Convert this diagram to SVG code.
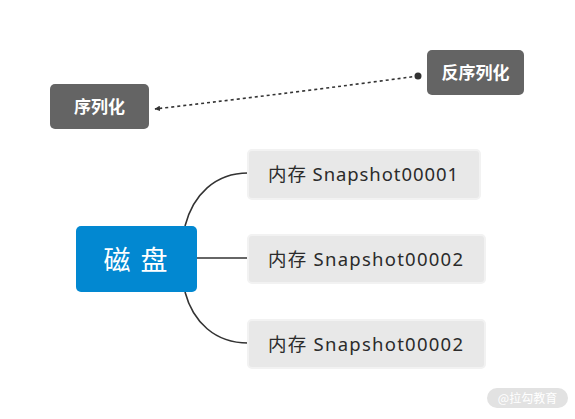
<svg xmlns="http://www.w3.org/2000/svg" width="575" height="419" viewBox="0 0 575 419">
<style>
.dark{fill:#646464}
.dtxt{fill:#ffffff;font-family:"Noto Sans","Noto Sans CJK SC",sans-serif;font-weight:bold;font-size:17px}
.snap{fill:#e8e8e8;stroke:#f2f2f2;stroke-width:2}
.stxt{fill:#2b2b2b;font-family:"Noto Sans","Noto Sans CJK SC",sans-serif;font-size:18.5px}
.conn{fill:none;stroke:#333333;stroke-width:1.6}
</style>
<defs>
<marker id="arr" viewBox="0 0 10 10" refX="9" refY="5" markerWidth="3.5" markerHeight="3.5" orient="auto-start-reverse">
<path d="M0,0 L10,5 L0,10 Z" fill="#333"/>
</marker>
</defs>
<rect width="575" height="419" fill="#ffffff"/>
<g id="connectors">
<path class="conn" d="M418,76 Q300,92 155,109" stroke-dasharray="3,3" stroke-width="2.2" marker-end="url(#arr)"/>
<circle cx="418" cy="76" r="3.5" fill="#333"/>
<path class="conn" d="M185,226 C193,195 215,173 248,173"/>
<path class="conn" d="M197,258 L248,258"/>
<path class="conn" d="M185,292 C193,322 215,343 248,343"/>
</g>
<g id="serialize">
<rect class="dark" x="50" y="84" width="99" height="45" rx="5"/>
<text class="dtxt" x="99.5" y="112.5" text-anchor="middle">序列化</text>
</g>
<g id="deserialize">
<rect class="dark" x="427" y="50" width="97" height="45" rx="5"/>
<text class="dtxt" x="475.5" y="78.5" text-anchor="middle">反序列化</text>
</g>
<g id="disk">
<rect x="76" y="226" width="121" height="66" rx="5" fill="#0288d1"/>
<text x="136.5" y="270" text-anchor="middle" fill="#ffffff" font-family="Noto Sans CJK SC,sans-serif" font-size="27" letter-spacing="2">磁 盘</text>
</g>
<g id="snap1">
<rect class="snap" x="248" y="150" width="232" height="49" rx="4"/>
<text class="stxt" x="268" y="181" textLength="190" lengthAdjust="spacing">内存 Snapshot00001</text>
</g>
<g id="snap2">
<rect class="snap" x="248" y="235" width="237" height="48" rx="4"/>
<text class="stxt" x="268" y="265.5" textLength="195" lengthAdjust="spacing">内存 Snapshot00002</text>
</g>
<g id="snap3">
<rect class="snap" x="248" y="320" width="237" height="48" rx="4"/>
<text class="stxt" x="268" y="350.5" textLength="195" lengthAdjust="spacing">内存 Snapshot00002</text>
</g>
<g id="watermark">
<rect x="487" y="388" width="81" height="20" rx="10" fill="#e2e2e2"/>
<text x="527.5" y="402.5" text-anchor="middle" fill="#ffffff" font-family="Noto Sans CJK SC,sans-serif" font-size="12">@拉勾教育</text>
</g>
</svg>
